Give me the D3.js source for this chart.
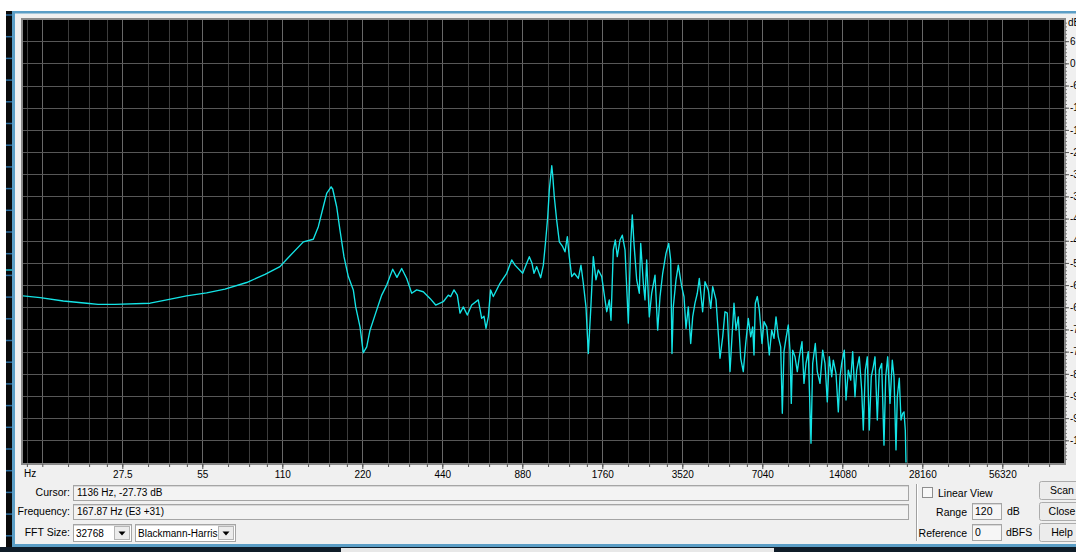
<!DOCTYPE html>
<html>
<head>
<meta charset="utf-8">
<script src="https://cdn.jsdelivr.net/npm/d3@7"></script>
<style>
  html, body { margin: 0; padding: 0; background: #f0f0f0; overflow: hidden; }
  svg { display: block; font-family: "Liberation Sans", Arial, sans-serif; }
</style>
</head>
<body>
<svg id="chart" width="1076" height="552"></svg>
<script>
// Spectrum trace: frequency (Hz) and level (dB)
const freqHz = [
  11.6, 13.5, 16.5, 20.2, 22.3, 25.8, 35.0, 40.4, 48.0, 57.1, 66.9, 80.8, 94.7, 107.8,
  114.3, 132, 143.9, 150.3, 156.9, 161.6, 167.9, 170.2, 176.2, 181.3, 187.7, 194.9,
  203.5, 207.8, 215.7, 221.9, 228.6, 235.2, 249.3, 260.3, 271.8, 286.3, 297.0, 309.5,
  323.2, 337.5, 352.4, 373.2, 395.5, 415.5, 443.8, 463.5, 473.2, 486.9, 501.1, 513,
  527.8, 546.4, 567.6, 601, 619, 631.4, 642.5, 655.5, 668.7, 684.5, 725.4, 768.7,
  802.8, 826, 883.1, 935.1, 957.2, 973.9, 997, 1032, 1056, 1078, 1097, 1112, 1136,
  1145, 1161, 1185, 1213, 1249, 1274, 1300, 1322, 1350, 1381, 1430, 1463, 1493, 1528,
  1559, 1592, 1628, 1666, 1700, 1751, 1802, 1829, 1870, 1898, 1936, 1970, 2004, 2052,
  2093, 2143, 2205, 2252, 2282, 2316, 2371, 2425, 2455, 2511, 2548, 2585, 2645, 2700,
  2779, 2844, 2902, 2970, 3056, 3129, 3183, 3219, 3256, 3333, 3400, 3502, 3572, 3635,
  3708, 3786, 3852, 3929, 4009, 4079, 4198, 4285, 4409, 4503, 4581, 4714, 4808, 4880,
  4995, 5096, 5198, 5322, 5414, 5509, 5605, 5718, 5839, 5971, 6097, 6236, 6367, 6478,
  6551, 6626, 6742, 6859, 7022, 7144, 7315, 7481, 7638, 7791, 7928, 8087, 8257, 8372,
  8494, 8644, 8818, 8948, 9051, 9161, 9346, 9534, 9700, 9930, 10102, 10281, 10487,
  10735, 10894, 11143, 11338, 11606, 11881, 12120, 12364, 12580, 12844, 13024, 13331,
  13601, 13803, 14007, 14326, 14539, 14832, 15143, 15408, 15717, 15953, 16314, 16657,
  16890, 17185, 17485, 17790, 18101, 18418, 18691, 19069, 19401, 19809, 20205, 20508,
  20865, 21286, 21714, 22037, 22421, 22676, 23071, 23415, 23761, 24030, 24304, 24451
];
const levelDb = [
  -62.9, -63.4, -64.3, -64.9, -65.2, -65.2, -64.9, -64.0, -62.9, -62.1, -61.1, -59.3, -57.1, -55.0,
  -53.0, -48.3, -47.6, -44.2, -38.8, -35.2, -33.4, -34.0, -38.8, -45.1, -52.3, -57.7,
  -61.3, -65.9, -71.3, -78.3, -76.7, -72.2, -66.7, -62.7, -60.0, -55.7, -57.9, -55.5,
  -58.2, -62.2, -61.3, -61.8, -63.6, -65.4, -64.5, -62.7, -63.1, -61.3, -62.7, -67.6,
  -65.9, -68.1, -65.4, -64.0, -69.0, -68.4, -71.7, -68.6, -61.3, -63.1, -59.5, -56.8,
  -53.2, -54.6, -56.8, -52.3, -54.1, -56.8, -55.0, -58.0, -54.6, -47.8, -41.5, -34.3, -27.7,
  -30.2, -36.1, -42.4, -48.3, -49.6, -51.0, -46.9, -52.3, -57.7, -56.8, -58.2, -54.6, -59.5, -65.9,
  -78.5, -66.7, -52.3, -58.6, -55.9, -57.7, -64.0, -67.2, -64.0, -69.5, -50.5, -47.8, -52.3, -47.8,
  -46.5, -50.5, -70.3, -48.7, -41.0, -48.7, -58.6, -62.2, -48.7, -59.5, -64.0, -53.2, -68.6, -62.2,
  -57.3, -72.2, -63.1, -56.8, -51.4, -48.7, -53.2, -78.5, -65.9, -58.6, -54.6, -60.4, -63.1, -71.7,
  -65.9, -75.8, -68.6, -64.9, -62.2, -58.2, -67.2, -59.1, -61.3, -66.3, -60.4, -64.0, -73.1, -79.8,
  -74.0, -67.2, -67.6, -83.4, -74.0, -64.9, -72.2, -68.6, -79.8, -83.4, -75.8, -69.0, -74.0, -71.3,
  -78.9, -64.9, -63.1, -66.7, -75.8, -69.9, -71.3, -78.9, -72.2, -74.4, -68.6, -74.0, -76.7, -94.7,
  -78.0, -74.4, -70.8, -77.6, -92.0, -77.6, -79.4, -83.4, -79.4, -75.3, -86.6, -81.2, -78.0,
  -102.8, -81.2, -75.8, -83.4, -86.6, -77.6, -81.2, -91.6, -79.4, -84.8, -80.3, -83.9,
  -94.3, -84.8, -81.2, -77.6, -91.1, -83.0, -85.7, -78.0, -90.2, -83.0, -79.4, -88.4,
  -99.2, -83.0, -79.4, -99.2, -84.8, -82.1, -79.4, -96.5, -83.0, -81.2, -103.3, -84.8,
  -79.4, -92.0, -80.3, -84.8, -104.6, -90.2, -85.2, -96.5, -94.7, -94.3, -99.2, -108
];

// Axis ticks and labels
const octaveHz = [27.5, 55, 110, 220, 440, 880, 1760, 3520, 7040, 14080, 28160, 56320];
const octaveLabels = ["27.5", "55", "110", "220", "440", "880", "1760", "3520", "7040", "14080", "28160", "56320"];
const gridSteps = [1, 1.25, 1.5, 1.75];
const dbTicks = [6, 0, -6, -12, -18, -24, -30, -36, -42, -48, -54, -60, -66, -72, -78, -84, -90, -96, -102];
const dbLabels = ["6", "0", "-6", "-12", "-18", "-24", "-30", "-36", "-42", "-48", "-54", "-60", "-66", "-72", "-78", "-84", "-90", "-96", "-102"];

// Readouts and controls
const cursorText = "1136 Hz, -27.73 dB";
const frequencyText = "167.87 Hz (E3 +31)";
const fftSizeText = "32768";
const windowText = "Blackmann-Harris";
const rangeText = "120";
const referenceText = "0";

const W = 1076, H = 552;
const P = { l: 23, r: 1064, t: 20, b: 463 };

const x = d3.scaleLog().base(2).domain([27.5, 56320]).range([122.3, 1002.3]);
const y = d3.scaleLinear().domain([12, -108]).range([19, 462.5]);

const svg = d3.select("#chart");

// ---- window chrome ----
svg.append("rect").attr("width", W).attr("height", H).attr("fill", "#f0f0f0");
svg.append("rect").attr("width", W).attr("height", 11).attr("fill", "#ffffff");
svg.append("rect").attr("width", 6).attr("height", H).attr("fill", "#ffffff");
svg.append("rect").attr("x", 6).attr("y", 11).attr("width", 6).attr("height", H - 11).attr("fill", "#0a0a0a");
svg.append("g").selectAll("line").data(d3.range(15, 545, 21.7)).join("line")
  .attr("x1", 6).attr("x2", 12).attr("y1", d => d).attr("y2", d => d)
  .attr("stroke", "#2c6d9e").attr("stroke-width", 1.5);
svg.append("line").attr("x1", 6).attr("x2", 12).attr("y1", 270).attr("y2", 270)
  .attr("stroke", "#1fbfd0").attr("stroke-width", 1.5);

const frame = "#5b9ec6";
svg.append("rect").attr("x", 12).attr("y", 11).attr("width", W - 12).attr("height", 2.5).attr("fill", frame);
svg.append("rect").attr("x", 12).attr("y", 11).attr("width", 3).attr("height", 536).attr("fill", frame);
svg.append("rect").attr("x", 12).attr("y", 544).attr("width", W - 12).attr("height", 3).attr("fill", frame);
svg.append("rect").attr("x", 0).attr("y", 547).attr("width", W).attr("height", 5).attr("fill", "#0f1c28");
svg.append("rect").attr("x", 341).attr("y", 548).attr("width", 433).attr("height", 4).attr("fill", "#e8e8e8");

// ---- plot area ----
svg.append("rect").attr("x", P.l).attr("y", P.t).attr("width", P.r - P.l).attr("height", P.b - P.t).attr("fill", "#000");

svg.append("defs").append("clipPath").attr("id", "plotClip")
  .append("rect").attr("x", P.l).attr("y", P.t).attr("width", P.r - P.l).attr("height", P.b - P.t);

const [fLo, fHi] = [x.invert(P.l), x.invert(P.r)];
const gridHz = [];
for (let k = -3; k <= 12; k++) {
  gridSteps.forEach((s, i) => {
    const f = 13.75 * Math.pow(2, k) * s;
    if (f > fLo && f < fHi) gridHz.push({ f, major: i === 0 });
  });
}

const grid = svg.append("g").attr("clip-path", "url(#plotClip)").attr("shape-rendering", "crispEdges");
grid.selectAll("line.v").data(gridHz).join("line").attr("class", "v")
  .attr("x1", d => Math.round(x(d.f)) + 0.5).attr("x2", d => Math.round(x(d.f)) + 0.5)
  .attr("y1", P.t).attr("y2", P.b)
  .attr("stroke", d => d.major ? "#686868" : "#3c3c3c").attr("stroke-width", 1);
grid.selectAll("line.h").data(dbTicks).join("line").attr("class", "h")
  .attr("x1", P.l).attr("x2", P.r)
  .attr("y1", d => Math.round(y(d)) + 0.5).attr("y2", d => Math.round(y(d)) + 0.5)
  .attr("stroke", "#575757").attr("stroke-width", 1.5);

// ---- spectrum trace ----
const trace = freqHz.map((f, i) => ({ f, db: levelDb[i] }));
svg.append("g").attr("clip-path", "url(#plotClip)")
  .append("path").datum(trace)
  .attr("d", d3.line().x(d => x(d.f)).y(d => y(d.db)))
  .attr("fill", "none").attr("stroke", "#14e4e6").attr("stroke-width", 1.35)
  .attr("stroke-linejoin", "round");

// plot border
svg.append("rect").attr("x", P.l - 1).attr("y", P.t - 1).attr("width", P.r - P.l + 2).attr("height", P.b - P.t + 2)
  .attr("fill", "none").attr("stroke", "#8a8a8a").attr("stroke-width", 2);

// ---- frequency axis ----
const minorAxis = d3.axisBottom(x).tickValues(gridHz.map(d => d.f)).tickSize(3).tickFormat("");
const gMinor = svg.append("g").attr("transform", `translate(0,${P.b + 1})`).call(minorAxis);
gMinor.select(".domain").remove();
gMinor.selectAll(".tick line").attr("stroke", "#555");

const majorAxis = d3.axisBottom(x).tickValues(octaveHz).tickSize(5).tickPadding(2)
  .tickFormat((d, i) => octaveLabels[i]);
const gMajor = svg.append("g").attr("transform", `translate(0,${P.b + 1})`).call(majorAxis);
gMajor.select(".domain").remove();
gMajor.selectAll(".tick line").attr("stroke", "#555");
gMajor.selectAll(".tick text").attr("font-size", 10).attr("fill", "#000")
  .attr("font-family", "'Liberation Sans', Arial, sans-serif");
svg.append("text").attr("x", 24).attr("y", 477).attr("font-size", 10).text("Hz");

// ---- level axis ----
const dbMinorAxis = d3.axisRight(y).tickValues(d3.range(11, -108, -1)).tickSize(2).tickFormat("");
const gDbMinor = svg.append("g").attr("transform", `translate(${P.r + 1},0)`).call(dbMinorAxis);
gDbMinor.select(".domain").remove();
gDbMinor.selectAll(".tick line").attr("stroke", "#777");

const dbAxis = d3.axisRight(y).tickValues(dbTicks).tickSize(4).tickPadding(1)
  .tickFormat((d, i) => dbLabels[i]);
const gDb = svg.append("g").attr("transform", `translate(${P.r + 1},0)`).call(dbAxis);
gDb.select(".domain").remove();
gDb.selectAll(".tick line").attr("stroke", "#555");
gDb.selectAll(".tick text").attr("font-size", 10).attr("fill", "#000")
  .attr("font-family", "'Liberation Sans', Arial, sans-serif");
svg.append("text").attr("x", 1068).attr("y", 26).attr("font-size", 10).text("dB");

// ---- control panel ----
const ui = svg.append("g").attr("font-size", 10.5).attr("fill", "#000");

function field(x0, y0, w, h, fill) {
  ui.append("rect").attr("x", x0 + 0.5).attr("y", y0 + 0.5).attr("width", w).attr("height", h)
    .attr("fill", fill).attr("stroke", "#a5a5a5");
  ui.append("line").attr("x1", x0 + 1).attr("x2", x0 + w).attr("y1", y0 + 1.5).attr("y2", y0 + 1.5)
    .attr("stroke", "#d8d8d8");
}
function label(txt, x0, yb, anchor, size) {
  const t = ui.append("text").attr("x", x0).attr("y", yb).attr("text-anchor", anchor || "start").text(txt);
  if (size) t.attr("font-size", size);
}
function combo(x0, y0, w, h, txt) {
  field(x0, y0, w, h, "#ffffff");
  ui.append("rect").attr("x", x0 + w - 16.5).attr("y", y0 + 2.5).attr("width", 15).attr("height", h - 4)
    .attr("fill", "#ececec").attr("stroke", "#b5b5b5");
  const cx = x0 + w - 9, cy = y0 + h / 2 + 1;
  ui.append("path").attr("d", `M${cx - 3.5},${cy - 2}L${cx + 3.5},${cy - 2}L${cx},${cy + 2}Z`).attr("fill", "#000");
  label(txt, x0 + 3, y0 + h - 4, "start", 10);
}
function button(x0, y0, w, h, txt) {
  ui.append("rect").attr("x", x0 + 0.5).attr("y", y0 + 0.5).attr("width", w).attr("height", h).attr("rx", 2)
    .attr("fill", "#ececec").attr("stroke", "#acacac");
  label(txt, x0 + 23, y0 + h - 5, "middle");
}

label("Cursor:", 70, 496, "end");
field(73, 485, 835, 15, "#f3f3f3");
label(cursorText, 77, 496, "start", 10);

label("Frequency:", 70, 515, "end");
field(73, 504, 835, 15, "#f3f3f3");
label(frequencyText, 77, 515, "start", 10);

label("FFT Size:", 70, 536, "end");
combo(73, 524, 58, 17, fftSizeText);
combo(135, 524, 100, 17, windowText);

ui.append("line").attr("x1", 916.5).attr("x2", 916.5).attr("y1", 484).attr("y2", 541).attr("stroke", "#a0a0a0");
ui.append("line").attr("x1", 917.5).attr("x2", 917.5).attr("y1", 484).attr("y2", 541).attr("stroke", "#ffffff");

ui.append("rect").attr("x", 922.5).attr("y", 487.5).attr("width", 10).attr("height", 10)
  .attr("fill", "#f8f8f8").attr("stroke", "#8e8e8e");
label("Linear View", 938, 497);

label("Range", 967, 516, "end");
field(972, 503, 29, 16, "#f6f6f6");
label(rangeText, 975, 515);
label("dB", 1007, 515);

label("Reference", 967, 537, "end");
field(972, 524, 29, 16, "#f6f6f6");
label(referenceText, 975, 536);
label("dBFS", 1006, 536);

button(1039, 481, 45, 18, "Scan");
button(1039, 502, 45, 18, "Close");
button(1039, 523, 45, 18, "Help");
</script>
</body>
</html>
